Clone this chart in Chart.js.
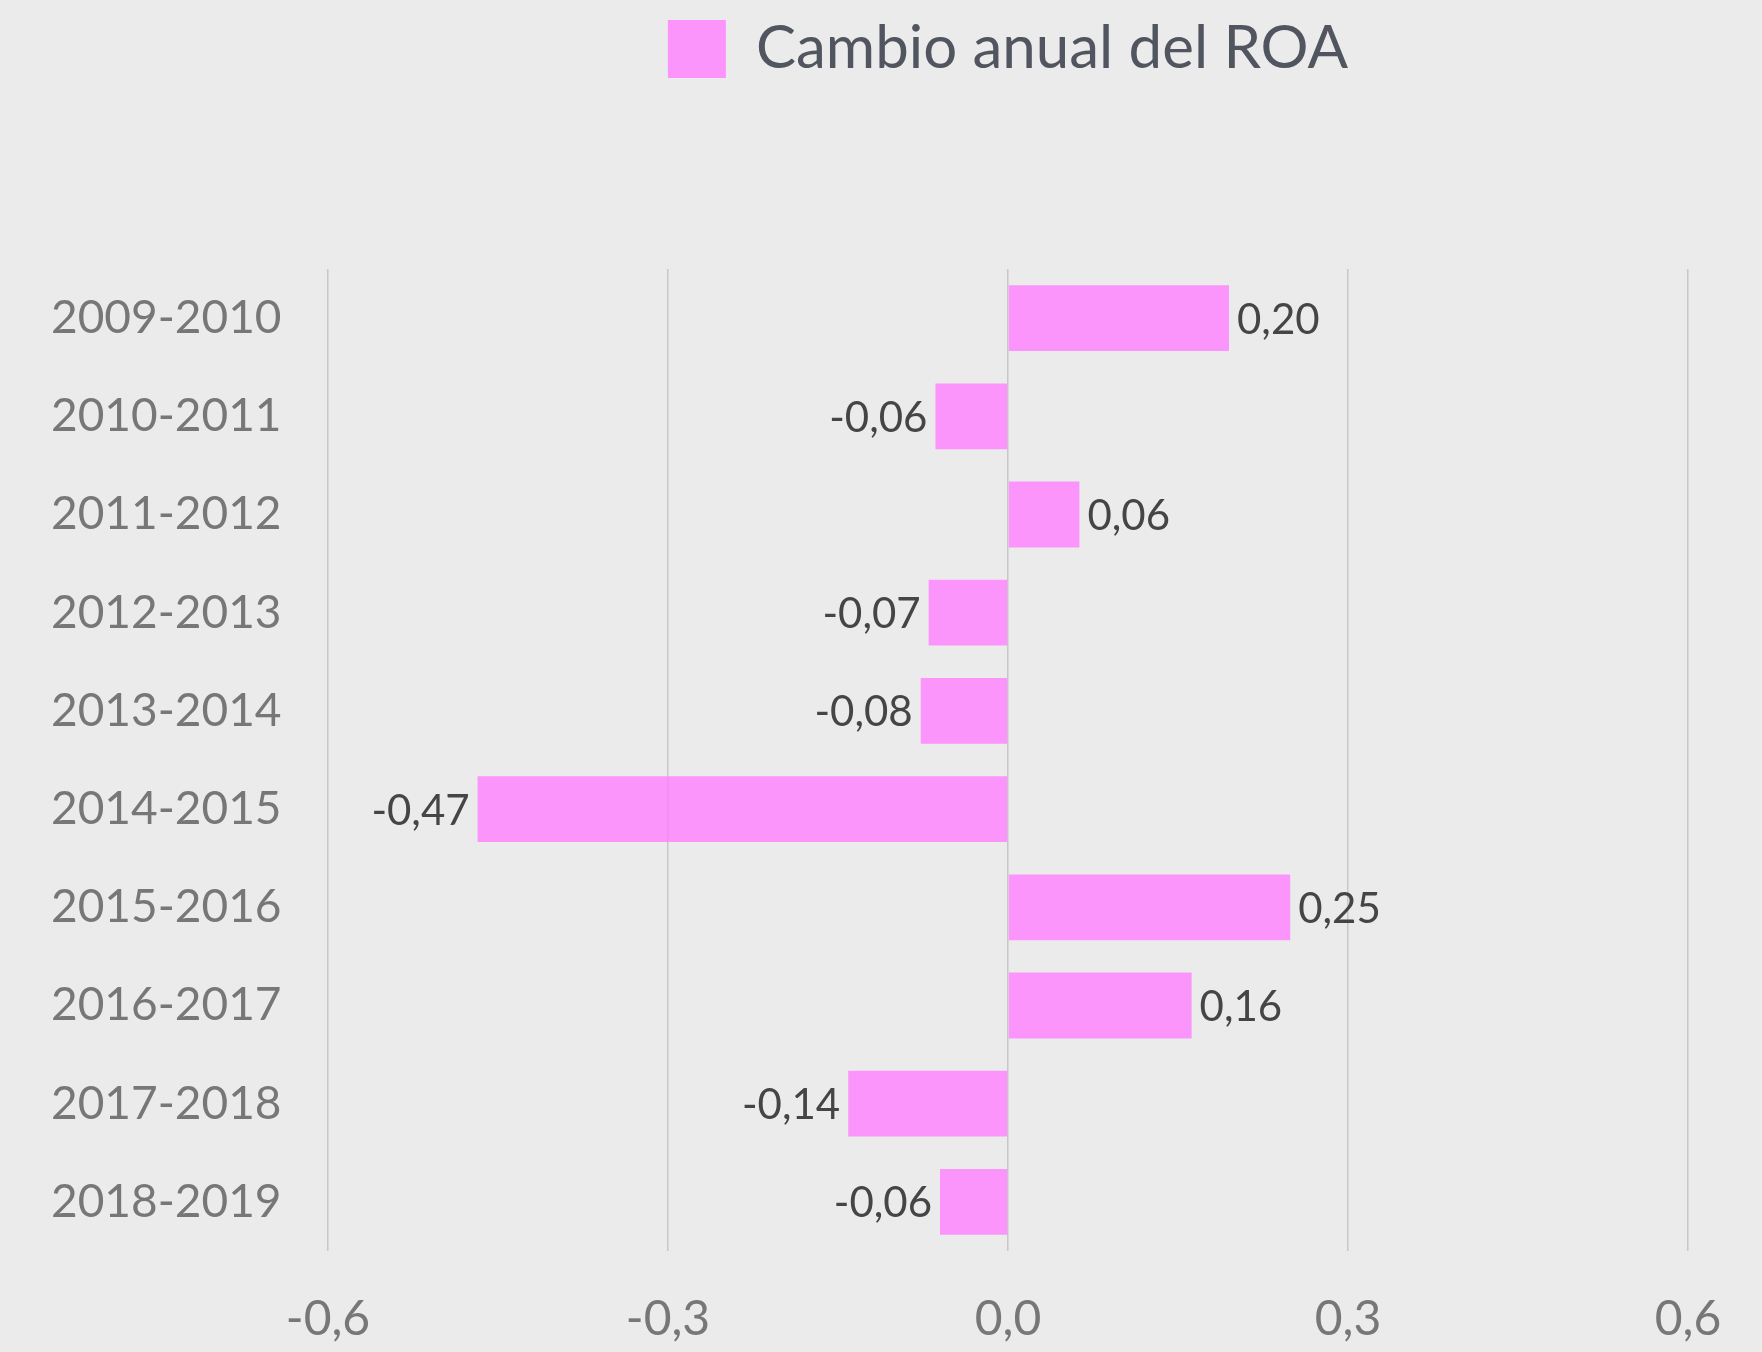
<!DOCTYPE html>
<html>
<head>
<meta charset="utf-8">
<script src="https://cdn.jsdelivr.net/npm/chart.js@4"></script>
<style>
    html, body { margin: 0; padding: 0; background: #ebebeb; }
    #wrap { width: 1762px; height: 1352px; }
</style>
</head>
<body>
<div id="wrap"><canvas id="roa-chart"></canvas></div>
<script>
// --- Data ---
const periods = ['2009-2010', '2010-2011', '2011-2012', '2012-2013', '2013-2014',
                 '2014-2015', '2015-2016', '2016-2017', '2017-2018', '2018-2019'];
const roaChange = [0.195, -0.064, 0.063, -0.07, -0.077, -0.468, 0.249, 0.162, -0.141, -0.06];
const xTicks = [-0.6, -0.3, 0, 0.3, 0.6];
const seriesLabel = 'Cambio anual del ROA';

const FONT = 'Lato, "Open Sans", sans-serif';
const comma = (v, d) => v.toFixed(d).replace('.', ',');

// pushes the plot down below the legend
const legendSpacer = {
    id: 'legendSpacer',
    beforeInit(chart) {
        if (!chart.legend) return;
        const fit = chart.legend.fit;
        chart.legend.fit = function () { fit.call(this); this.height += 180; };
    },
    afterLayout(chart) {
        // centre the legend over the plot area, not the canvas
        chart.legend.left = chart.chartArea.left;
        chart.legend.right = chart.chartArea.right;
    }
};

// value labels at the end of each bar
const barLabels = {
    id: 'barLabels',
    afterDatasetsDraw(chart) {
        const ctx = chart.ctx;
        const meta = chart.getDatasetMeta(0);
        ctx.save();
        ctx.font = '42px ' + FONT;
        ctx.fillStyle = '#454545';
        ctx.textBaseline = 'middle';
        meta.data.forEach((bar, i) => {
            const v = roaChange[i];
            if (v >= 0) {
                ctx.textAlign = 'left';
                ctx.fillText(comma(v, 2), bar.x + 8, bar.y + 2);
            } else {
                ctx.textAlign = 'right';
                ctx.fillText(comma(v, 2), bar.x - 8, bar.y + 2);
            }
        });
        ctx.restore();
    }
};

new Chart(document.getElementById('roa-chart'), {
    type: 'bar',
    data: {
        labels: periods,
        datasets: [{
            label: seriesLabel,
            data: roaChange,
            backgroundColor: 'rgba(255, 127, 255, 0.8)',
            borderWidth: 0,
            barPercentage: 0.67,
            categoryPercentage: 1
        }]
    },
    options: {
        indexAxis: 'y',
        responsive: true,
        maintainAspectRatio: false,
        animation: false,
        layout: { padding: { left: 51, right: 74, top: 19, bottom: 0 } },
        plugins: {
            legend: {
                position: 'top',
                labels: {
                    boxWidth: 58,
                    boxHeight: 58,
                    padding: 0,
                    color: '#50555f',
                    font: { family: FONT, size: 60 }
                }
            },
            tooltip: { enabled: false }
        },
        scales: {
            x: {
                min: -0.6,
                max: 0.6,
                afterBuildTicks(axis) { axis.ticks = xTicks.map(v => ({ value: v })); },
                afterFit(axis) { axis.height = 101; },
                grid: { color: '#c8c8c8', lineWidth: 1.5, drawTicks: false },
                border: { display: false },
                ticks: {
                    color: '#777777',
                    padding: 40,
                    font: { family: FONT, size: 48 },
                    callback: v => comma(v, 1)
                }
            },
            y: {
                grid: { display: false, drawTicks: false },
                border: { display: false },
                afterFit(axis) { axis.width = 277; },
                ticks: {
                    color: '#777777',
                    crossAlign: 'far',
                    font: { family: FONT, size: 46 }
                }
            }
        }
    },
    plugins: [legendSpacer, barLabels]
});
</script>
</body>
</html>
